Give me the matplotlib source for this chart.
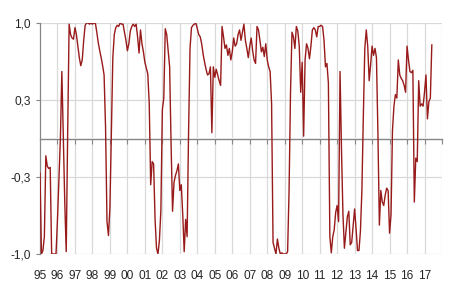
import matplotlib
matplotlib.use("Agg")
import matplotlib.pyplot as plt
import numpy as np

# Monthly values, Jan 1995 - Jun 2017
v1995 = [-0.30, -1.00, -0.97, -0.85, -0.15, -0.24, -0.26, -0.25, -1.00, -1.00, -1.00, -1.00]
v1996 = [-0.70, -0.35, 0.00, 0.58, 0.00, -0.55, -0.98, 0.05, 0.99, 0.90, 0.87, 0.86]
v1997 = [0.96, 0.90, 0.80, 0.70, 0.63, 0.68, 0.85, 0.98, 1.00, 1.00, 0.99, 1.00]
v1998 = [0.99, 1.00, 1.00, 0.92, 0.83, 0.76, 0.70, 0.63, 0.55, 0.10, -0.72, -0.84]
v1999 = [-0.60, 0.05, 0.70, 0.90, 0.96, 0.98, 0.97, 1.00, 0.99, 0.99, 0.92, 0.85]
v2000 = [0.76, 0.82, 0.93, 0.97, 0.99, 0.97, 0.99, 0.88, 0.74, 0.94, 0.82, 0.75]
v2001 = [0.66, 0.61, 0.56, 0.30, -0.40, -0.20, -0.22, -0.70, -0.95, -1.00, -0.88, -0.62]
v2002 = [0.25, 0.35, 0.95, 0.90, 0.76, 0.62, -0.05, -0.63, -0.38, -0.32, -0.28, -0.22]
v2003 = [-0.45, -0.40, -0.66, -0.98, -0.70, -0.85, 0.05, 0.78, 0.96, 0.98, 0.99, 1.00]
v2004 = [0.95, 0.90, 0.88, 0.82, 0.73, 0.66, 0.60, 0.55, 0.56, 0.62, 0.05, 0.62]
v2005 = [0.53, 0.60, 0.55, 0.50, 0.46, 0.97, 0.88, 0.78, 0.81, 0.72, 0.78, 0.68]
v2006 = [0.75, 0.87, 0.80, 0.82, 0.90, 0.94, 0.85, 0.92, 0.99, 0.85, 0.78, 0.70]
v2007 = [0.80, 0.87, 0.76, 0.68, 0.65, 0.97, 0.94, 0.85, 0.75, 0.79, 0.71, 0.82]
v2008 = [0.68, 0.62, 0.58, 0.30, -0.90, -0.95, -1.00, -0.87, -0.95, -1.00, -0.99, -1.00]
v2009 = [-1.00, -1.00, -0.98, -0.45, 0.40, 0.92, 0.88, 0.78, 0.97, 0.93, 0.80, 0.40]
v2010 = [0.66, 0.02, 0.68, 0.82, 0.78, 0.69, 0.80, 0.94, 0.96, 0.94, 0.88, 0.97]
v2011 = [0.97, 0.98, 0.97, 0.85, 0.62, 0.65, 0.48, -0.85, -0.99, -0.85, -0.79, -0.64]
v2012 = [-0.58, -0.72, 0.58, -0.10, -0.66, -0.95, -0.81, -0.68, -0.63, -0.92, -0.90, -0.75]
v2013 = [-0.61, -0.78, -0.97, -0.97, -0.80, -0.45, 0.20, 0.78, 0.94, 0.80, 0.50, 0.64]
v2014 = [0.80, 0.72, 0.78, 0.70, 0.05, -0.75, -0.45, -0.55, -0.58, -0.49, -0.43, -0.45]
v2015 = [-0.82, -0.66, 0.07, 0.28, 0.38, 0.35, 0.68, 0.55, 0.52, 0.50, 0.46, 0.40]
v2016 = [0.80, 0.68, 0.58, 0.57, 0.59, -0.55, -0.17, -0.20, 0.50, 0.28, 0.30, 0.28]
v2017 = [0.40, 0.55, 0.17, 0.32, 0.35, 0.81]

values = (v1995 + v1996 + v1997 + v1998 + v1999 + v2000 + v2001 + v2002 + v2003 +
          v2004 + v2005 + v2006 + v2007 + v2008 + v2009 + v2010 + v2011 + v2012 +
          v2013 + v2014 + v2015 + v2016 + v2017)
start_year = 1995
years = list(range(1995, 2018))
year_labels = [f"{y % 100:02d}" for y in years]
ytick_vals = [-1.0, -1/3, 1/3, 1.0]
ytick_labels = ["-1,0", "-0,3", "0,3", "1,0"]

t = start_year + np.arange(len(values)) / 12.0

plt.rcParams['font.family'] = ['Liberation Sans', 'DejaVu Sans']
fig = plt.figure(figsize=(4.5, 2.91), dpi=100)
ax = fig.add_axes([40/450, 37/291, 402/450, 231/291])

grid_c = '#D9D9D9'
axis_c = '#868686'
text_c = '#262626'

# gridlines
for y in ytick_vals:
    ax.axhline(y, color=grid_c, lw=0.9, zorder=1)
for yr in range(1996, 2019):
    ax.axvline(yr, color=grid_c, lw=0.9, zorder=1)

ax.plot(t, values, color='#981A1A', lw=1.0, zorder=3)

ax.set_xlim(1995, 2018)
ax.set_ylim(-1, 1)

for s in ['top', 'right', 'bottom']:
    ax.spines[s].set_visible(False)
ax.spines['left'].set_color(axis_c)
ax.spines['left'].set_linewidth(0.9)

ax.set_yticks(ytick_vals)
ax.set_yticklabels(ytick_labels)
ax.tick_params(axis='y', direction='out', length=3, width=0.8, color=axis_c,
               labelsize=8.6, labelcolor=text_c, pad=3.5)

ax.set_xticks(years)
ax.set_xticklabels(year_labels)
ax.tick_params(axis='x', length=0, labelsize=8.6, labelcolor=text_c, pad=11.5)

# zero axis with ticks
sec = ax.secondary_xaxis(0.5)
sec.set_alignment('bottom')
sec.set_xticks(list(range(1996, 2019)))
sec.set_xticklabels([])
sec.tick_params(axis='x', which='both', direction='out', length=3.5, width=0.8,
                color=axis_c)
for sp in sec.spines.values():
    sp.set_edgecolor(axis_c)
    sp.set_linewidth(1.0)
sec.set_zorder(2)

fig.savefig('out.png', dpi=100)
